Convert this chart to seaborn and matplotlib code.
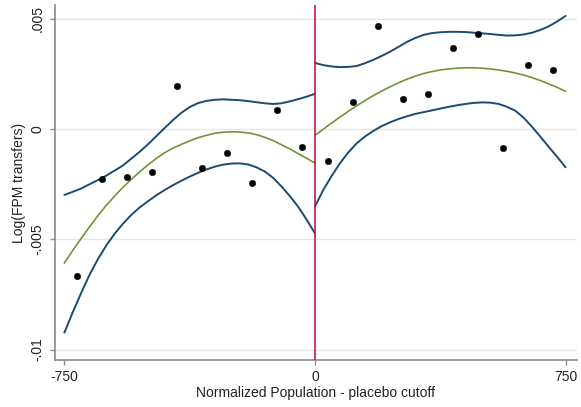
import numpy as np
import pandas as pd
import matplotlib
matplotlib.use("Agg")
import matplotlib.pyplot as plt
import seaborn as sns
from matplotlib.ticker import FuncFormatter

# Binned means of log FPM transfers on each side of the placebo cutoff
bins_left = [-712.5, -637.5, -562.5, -487.5, -412.5, -337.5, -262.5, -187.5, -112.5, -37.5]
means_left = [-0.00665, -0.00228, -0.00217, -0.00193, 0.00196, -0.00175, -0.00109, -0.00245, 0.00085, -0.00080]
bins_right = [37.5, 112.5, 187.5, 262.5, 337.5, 412.5, 487.5, 562.5, 637.5, 712.5]
means_right = [-0.00145, 0.00121, 0.00467, 0.00136, 0.00157, 0.00368, 0.00429, -0.00085, 0.00290, 0.00267]

# Fitted polynomial and 95% confidence band, evaluated every 25 units on each side
grid_left = [-750, -725, -700, -675, -650, -625, -600, -575, -550, -525, -500,
             -475, -450, -425, -400, -375, -350, -325, -300, -275, -250,
             -225, -200, -175, -150, -125, -100, -75, -50, -25, 0]
fit_left = [-0.00608, -0.00551, -0.00497, -0.00444, -0.00394, -0.00347, -0.00305, -0.00265,
            -0.00229, -0.00195, -0.00163, -0.00134, -0.00108, -0.00087, -0.00070, -0.00054,
            -0.00040, -0.00029, -0.00020, -0.00015, -0.00013, -0.00014, -0.00018, -0.00026,
            -0.00038, -0.00053, -0.00072, -0.00091, -0.00112, -0.00133, -0.00155]
lo_left = [-0.00923, -0.00831, -0.00744, -0.00662, -0.00591, -0.00529, -0.00476, -0.00430,
           -0.00390, -0.00356, -0.00328, -0.00301, -0.00277, -0.00255, -0.00235, -0.00216,
           -0.00199, -0.00184, -0.00171, -0.00162, -0.00157, -0.00156, -0.00161, -0.00174,
           -0.00193, -0.00222, -0.00261, -0.00305, -0.00353, -0.00411, -0.00473]
hi_left = [-0.00299, -0.00285, -0.00270, -0.00251, -0.00232, -0.00212, -0.00189, -0.00166,
           -0.00135, -0.00104, -0.00070, -0.00033, 0.00004, 0.00040, 0.00073, 0.00099,
           0.00117, 0.00127, 0.00132, 0.00134, 0.00132, 0.00130, 0.00126, 0.00121,
           0.00116, 0.00113, 0.00116, 0.00125, 0.00135, 0.00146, 0.00159]

grid_right = [0, 25, 50, 75, 100, 125, 150, 175, 200, 225, 250,
              275, 300, 325, 350, 375, 400, 425, 450, 475, 500,
              525, 550, 575, 600, 625, 650, 675, 700, 725, 750]
fit_right = [-0.00029, -0.00001, 0.00027, 0.00054, 0.00080, 0.00105, 0.00129, 0.00151,
             0.00172, 0.00191, 0.00209, 0.00225, 0.00239, 0.00251, 0.00260, 0.00267,
             0.00272, 0.00275, 0.00277, 0.00277, 0.00275, 0.00272, 0.00267, 0.00261,
             0.00253, 0.00244, 0.00232, 0.00219, 0.00204, 0.00188, 0.00170]
lo_right = [-0.00352, -0.00276, -0.00213, -0.00155, -0.00106, -0.00065, -0.00034, -0.00009,
            0.00013, 0.00030, 0.00045, 0.00057, 0.00068, 0.00076, 0.00084, 0.00092,
            0.00100, 0.00107, 0.00113, 0.00118, 0.00120, 0.00119, 0.00113, 0.00100,
            0.00082, 0.00050, 0.00009, -0.00036, -0.00082, -0.00127, -0.00174]
hi_right = [0.00299, 0.00289, 0.00283, 0.00280, 0.00281, 0.00285, 0.00298, 0.00313,
            0.00331, 0.00350, 0.00372, 0.00394, 0.00412, 0.00426, 0.00434, 0.00438,
            0.00440, 0.00440, 0.00439, 0.00436, 0.00433, 0.00430, 0.00426, 0.00423,
            0.00424, 0.00428, 0.00436, 0.00449, 0.00465, 0.00487, 0.00512]

x_ticks = [-750, 0, 750]
y_ticks = [0.005, 0, -0.005, -0.01]

NAVY = "#1c4a72"
OLIVE = "#729436"
CUTOFF = "#c3164a"

sns.set_theme(style="white")
plt.rcParams["font.family"] = ["Liberation Sans", "DejaVu Sans"]

fig = plt.figure(figsize=(5.81, 4.07), dpi=100)
ax = fig.add_axes([0.0947, 0.1155, 0.8983, 0.8725])

points = pd.DataFrame({"x": bins_left + bins_right, "y": means_left + means_right})

curves = [
    (grid_left, lo_left, NAVY, 1.4),
    (grid_left, hi_left, NAVY, 1.4),
    (grid_left, fit_left, OLIVE, 1.2),
    (grid_right, lo_right, NAVY, 1.4),
    (grid_right, hi_right, NAVY, 1.4),
    (grid_right, fit_right, OLIVE, 1.2),
]
for gx, gy, col, lw in curves:
    sns.lineplot(x=gx, y=gy, ax=ax, color=col, linewidth=lw, sort=False,
                 estimator=None, legend=False, solid_joinstyle="round",
                 solid_capstyle="round")

ax.axvline(0, color=CUTOFF, linewidth=1.2, zorder=3)

sns.scatterplot(data=points, x="x", y="y", ax=ax, color="black", s=22,
                edgecolor="black", linewidth=0.3, zorder=4, legend=False)

ax.set_xlim(-778, 784)
ax.set_ylim(-0.01047, 0.00562)
ax.set_xticks(x_ticks)
ax.set_yticks(y_ticks)

def stata_fmt(v, _pos):
    if abs(v) < 1e-12:
        return "0"
    s = f"{v:g}"
    return s.replace("0.", ".")

ax.yaxis.set_major_formatter(FuncFormatter(stata_fmt))
ax.xaxis.set_major_formatter(FuncFormatter(lambda v, p: f"{int(round(v))}"))

ax.grid(axis="y", color="#e6e6e6", linewidth=1.0)
ax.grid(axis="x", visible=False)
ax.set_axisbelow(True)

for side in ["top", "right"]:
    ax.spines[side].set_visible(False)
for side in ["left", "bottom"]:
    ax.spines[side].set_color("#8a8a8a")
    ax.spines[side].set_linewidth(1.2)

ax.tick_params(axis="both", which="major", direction="out", length=3.5, width=1.0,
               color="#8a8a8a", labelsize=10, labelcolor="#222222", pad=4)
ax.tick_params(axis="y", left=True)
ax.tick_params(axis="x", bottom=True)
for lbl in ax.get_yticklabels():
    lbl.set_rotation(90)
    lbl.set_va("center")

ax.set_xlabel("Normalized Population - placebo cutoff", fontsize=10, color="#222222", labelpad=1)
ax.set_ylabel("Log(FPM transfers)", fontsize=10, color="#222222", labelpad=3)

fig.savefig("out.png", dpi=100)
